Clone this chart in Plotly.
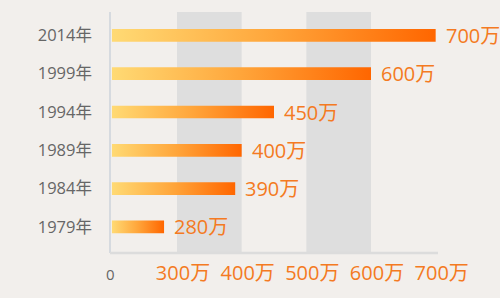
import plotly.graph_objects as go

# ---- data ----
years = ["1979年", "1984年", "1989年", "1994年", "1999年", "2014年"]
values = [280, 390, 400, 450, 600, 700]          # 万
tick_values = [300, 400, 500, 600, 700]
tick_texts = ["300万", "400万", "500万", "600万", "700万"]
bands = [(300, 400), (500, 600)]

# ---- style ----
BG = "#F2EFEC"
ORANGE_TXT = "#F47A22"
GREY_TXT = "#666666"
FONT = "Open Sans, Noto Sans CJK SC"
X_START = 196.4
X_END = 703.6
BAR_HALF = 0.165

fig = go.Figure()

for i, (yr, v) in enumerate(zip(years, values)):
    base = X_START + 3
    fig.add_trace(go.Scatter(
        x=[base, v, v, base, base],
        y=[i - BAR_HALF, i - BAR_HALF, i + BAR_HALF, i + BAR_HALF, i - BAR_HALF],
        mode="lines", line=dict(width=0),
        fill="toself",
        fillgradient=dict(type="horizontal",
                          colorscale=[[0, "#FFDA74"], [0.5, "#FFA53A"], [1, "#FF6600"]]),
        hoverinfo="skip", showlegend=False,
    ))
    fig.add_annotation(x=v, y=i, text=f"{v}万", showarrow=False,
                       xanchor="left", yanchor="middle", xshift=8,
                       font=dict(family=FONT, size=20, color=ORANGE_TXT))

for x0, x1 in bands:
    fig.add_shape(type="rect", xref="x", yref="y domain", x0=x0, x1=x1, y0=0, y1=1,
                  fillcolor="#DEDEDE", line=dict(width=0), layer="below")

# axis lines
fig.add_shape(type="line", xref="x domain", yref="y domain", x0=0, x1=0, y0=0, y1=1,
              line=dict(color="#D6DADF", width=2))
fig.add_shape(type="line", xref="x domain", yref="y domain", x0=0, x1=1, y0=0, y1=0,
              line=dict(color="#DCDCDC", width=2.5))

fig.add_annotation(xref="x domain", yref="y domain", x=0, y=0, text="0",
                   showarrow=False, xanchor="center", yanchor="middle", yshift=-21,
                   font=dict(family=FONT, size=15, color=GREY_TXT))

fig.update_xaxes(range=[X_START, X_END], showgrid=False, zeroline=False, showline=False,
                 tickvals=tick_values, ticktext=tick_texts, ticks="",
                 ticklabelshift=6, ticklabelstandoff=6,
                 tickfont=dict(family=FONT, size=20, color=ORANGE_TXT))
fig.update_yaxes(range=[-0.68, 5.61], showgrid=False, zeroline=False, showline=False,
                 tickvals=list(range(len(years))), ticktext=years, ticks="",
                 ticklabelstandoff=17,
                 tickfont=dict(family=FONT, size=16.5, color=GREY_TXT))

fig.update_layout(width=500, height=298, margin=dict(l=110, r=62, t=12, b=45),
                  paper_bgcolor=BG, plot_bgcolor=BG, showlegend=False)

fig.write_html("out.html")
